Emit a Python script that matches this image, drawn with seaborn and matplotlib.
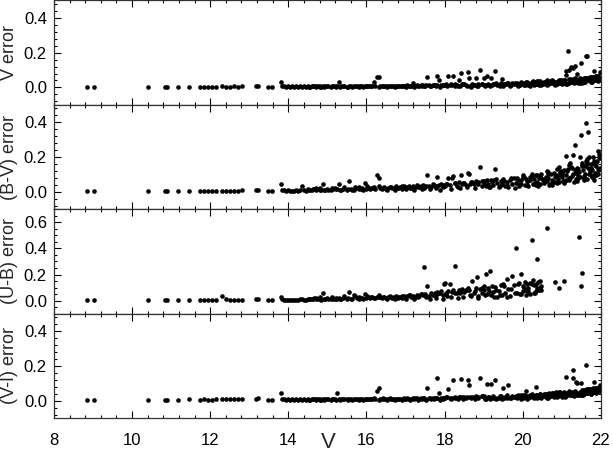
import numpy as np
import pandas as pd
import seaborn as sns
import matplotlib.pyplot as plt
from matplotlib.ticker import MultipleLocator

nan = np.nan

# V magnitude of each star (shared by all four panels)
v_mag = [
    8.84, 9.02, 10.40, 10.85, 10.90, 11.18, 11.45, 11.75, 11.85, 11.95,
    12.05, 12.15, 12.30, 12.40, 12.50, 12.60, 12.70, 12.82, 13.18, 13.22,
    13.48, 13.58, 13.81, 13.85, 13.90, 13.95, 14.00, 14.05, 14.10, 14.15,
    14.20, 14.25, 14.30, 14.34, 14.40, 14.45, 14.50, 14.55, 14.60, 14.65,
    14.70, 14.75, 14.80, 14.85, 14.89, 14.95, 15.00, 15.10, 15.15, 15.20,
    15.25, 15.30, 15.35, 15.40, 15.50, 15.56, 15.60, 15.68, 15.75, 15.80,
    15.85, 15.90, 15.96, 16.00, 16.05, 16.10, 16.15, 16.19, 16.26, 16.32,
    16.35, 16.40, 16.45, 16.50, 16.55, 16.60, 16.65, 16.70, 16.75, 16.80,
    16.85, 16.90, 16.95, 17.00, 17.05, 17.10, 17.15, 17.19, 17.25, 17.30,
    17.35, 17.40, 17.45, 17.48, 17.50, 17.56, 17.60, 17.65, 17.70, 17.75,
    17.80, 17.82, 17.85, 17.90, 17.95, 17.99, 18.00, 18.05, 18.09, 18.14,
    18.18, 18.23, 18.28, 18.32, 18.37, 18.42, 18.45, 18.50, 18.55, 18.60,
    18.62, 18.65, 18.70, 18.75, 18.80, 18.83, 18.85, 18.90, 18.95, 19.00,
    19.01, 19.06, 19.08, 19.12, 19.16, 19.19, 19.22, 19.25, 19.30, 19.35,
    19.40, 19.45, 19.48, 19.50, 19.55, 19.59, 19.63, 19.68, 19.73, 19.78,
    19.82, 19.85, 19.90, 19.95, 20.00, 20.05, 20.08, 20.10, 20.15, 20.20,
    20.23, 20.26, 20.30, 20.35, 20.37, 20.38, 20.42, 20.44, 20.48, 20.52,
    20.55, 20.60, 20.63, 20.64, 20.68, 20.72, 20.76, 20.80, 20.82, 20.86,
    20.90, 20.92, 20.94, 20.98, 21.02, 21.05, 21.07, 21.10, 21.12, 21.16,
    21.20, 21.24, 21.28, 21.30, 21.34, 21.37, 21.40, 21.44, 21.48, 21.50,
    21.53, 21.56, 21.60, 21.62, 21.65, 21.68, 21.72, 21.76, 21.80, 21.83,
    21.86, 21.90, 21.93, 21.96, 21.98, 21.66, 21.74, 21.88, 21.95, 21.70,
    16.52, 16.62, 16.72, 16.82, 16.92, 17.02, 17.12, 17.22, 17.32, 17.42,
    17.52, 17.62, 17.72, 17.78, 17.88, 17.97, 18.07, 18.16, 18.26, 18.35,
    18.40, 18.48, 18.57, 18.67, 18.77, 18.87, 18.97, 19.04, 19.14, 19.27,
    19.33, 19.42, 19.52, 19.61, 19.70, 19.80, 19.88, 19.97, 20.03, 20.12,
    20.18, 20.28, 20.33, 20.40, 20.46, 20.58, 20.66, 20.74, 20.84, 20.96,
    21.00, 21.08, 21.14, 21.22, 21.26, 21.32, 21.36, 21.42, 21.46, 21.52,
    21.55, 21.58, 21.64, 21.70, 21.74, 21.78, 21.82, 21.85, 21.88, 21.92,
    20.70, 20.88, 21.04, 21.18, 21.38, 21.57, 21.66, 21.75, 21.84, 21.94,
    19.92, 20.02, 20.14, 20.24, 20.32, 20.45, 20.54, 20.62, 20.78, 20.92,
    21.01, 21.11, 21.19, 21.27, 21.35, 21.43, 21.51, 21.59, 21.67, 21.77,
    21.81, 21.87, 21.91, 21.97, 21.61, 21.41, 21.21, 21.06, 20.88, 20.66,
    14.52, 14.72, 14.92, 15.12, 15.32, 15.52, 15.72, 15.92, 16.12, 16.32,
    14.62, 14.82, 15.02, 15.22, 15.42, 15.62, 15.82, 16.02, 16.22, 16.42,
]

v_err = [
    .004, .004, .004, .003, .004, .004, .004, .005, .004, .005,
    .005, .004, .006, .005, .005, .006, .005, .006, .007, .008,
    .004, .005, .034, .008, .006, .005, .007, .004, .006, .005,
    .006, .004, .007, .005, .006, .004, .008, .005, .006, .007,
    .005, .008, .006, .004, .007, .006, .009, .005, .007, .006,
    .007, .034, .006, .008, .005, .009, .007, .006, .010, .007,
    .006, .009, .008, .007, .010, .006, .009, .030, .060, .060,
    .008, .006, .010, .007, .009, .011, .008, .007, .010, .009,
    .011, .008, .010, .009, .012, .010, .008, .025, .011, .013,
    .010, .012, .014, .011, .009, .061, .013, .011, .015, .012,
    .014, .067, .040, .016, .013, .015, .012, .017, .067, .014,
    .016, .063, .018, .015, .040, .082, .017, .019, .016, .088,
    .057, .010, .020, .014, .052, .008, .019, .099, .022, .012,
    .057, .012, .067, .018, .009, .052, .016, .022, .095, .013,
    .014, .026, .048, .011, .021, .017, .028, .009, .024, .019,
    .018, .027, .012, .030, .022, .015, .033, .020, .026, .014,
    .024, .035, .016, .029, .038, .021, .013, .034, .027, .019,
    .031, .022, .040, .017, .036, .026, .043, .020, .033, .028,
    .038, .024, .045, .030, .021, .041, .034, .097, .072, .211,
    .100, .120, .048, .110, .125, .030, .080, .044, .027, .143,
    .036, .053, .029, .183, .183, .047, .060, .039, .062, .097,
    .045, .064, .035, .058, .090, .050, .031, .065, .042, .055,
    .004, .009, .003, .007, .011, .005, .008, .004, .010, .006,
    .012, .006, .015, .008, .004, .013, .009, .017, .006, .011,
    .008, .018, .011, .005, .016, .010, .020, .007, .014, .022,
    .025, .010, .019, .028, .013, .023, .009, .026, .016, .031,
    .011, .029, .018, .036, .014, .033, .020, .039, .016, .042,
    .025, .045, .019, .050, .032, .024, .046, .028, .052, .035,
    .048, .030, .056, .040, .061, .034, .057, .045, .063, .050,
    .023, .030, .035, .028, .038, .044, .052, .036, .058, .062,
    .016, .026, .013, .030, .020, .036, .024, .015, .038, .028,
    .040, .022, .048, .030, .052, .037, .026, .055, .044, .060,
    .047, .058, .066, .052, .040, .033, .044, .026, .019, .034,
    .003, .006, .004, .008, .005, .003, .007, .004, .009, .005,
    .007, .004, .006, .003, .008, .005, .004, .009, .006, .011,
]

bv_err = [
    .005, .005, .005, .004, .005, .005, .005, .006, .005, .006,
    .006, .005, .007, .006, .007, .006, .007, .008, .010, .012,
    .005, .006, .047, .012, .008, .006, .009, .005, .007, .006,
    .008, .006, .012, .036, .010, .007, .014, .008, .011, .016,
    .010, .015, .008, .012, .044, .011, .018, .009, .014, .020,
    .015, .046, .012, .018, .010, .065, .016, .013, .022, .014,
    .017, .020, .051, .015, .024, .018, .021, .026, .095, .082,
    .022, .016, .028, .019, .025, .030, .020, .024, .032, .021,
    .027, .019, .033, .024, .029, .036, .022, .031, .026, .038,
    .028, .034, .041, .025, .030, .095, .036, .027, .043, .032,
    .035, .088, .040, .046, .030, .042, .033, .048, .080, .038,
    .080, .090, .050, .036, .055, .097, .044, .052, .040, .110,
    .100, .048, .058, .045, .062, .050, .055, .141, .060, .047,
    .065, .032, .070, .045, .028, .066, .055, .038, .133, .050,
    .030, .062, .048, .072, .035, .058, .026, .070, .044, .078,
    .052, .080, .036, .068, .084, .042, .075, .060, .034, .085,
    .090, .048, .072, .038, .095, .058, .082, .044, .100, .066,
    .050, .088, .062, .116, .042, .105, .070, .110, .055, .096,
    .075, .141, .058, .118, .085, .125, .064, .204, .095, .130,
    .080, .145, .211, .100, .267, .072, .138, .115, .198, .327,
    .155, .090, .148, .394, .170, .345, .120, .160, .198, .090,
    .154, .110, .236, .217, .193, .190, .130, .170, .200, .198,
    .012, .026, .009, .020, .031, .015, .024, .011, .028, .018,
    .035, .016, .040, .022, .013, .031, .044, .019, .050, .027,
    .020, .052, .030, .058, .024, .046, .036, .060, .028, .070,
    .074, .032, .060, .040, .078, .025, .066, .048, .088, .038,
    .070, .045, .098, .036, .080, .060, .102, .040, .088, .112,
    .100, .065, .120, .078, .140, .058, .110, .130, .085, .150,
    .125, .070, .160, .100, .140, .085, .175, .110, .150, .130,
    .048, .052, .060, .070, .062, .080, .075, .095, .068, .105,
    .048, .095, .060, .105, .052, .090, .072, .120, .058, .095,
    .110, .070, .155, .090, .125, .080, .165, .105, .140, .125,
    .165, .095, .180, .140, .180, .090, .165, .050, .130, .080,
    .008, .020, .012, .025, .010, .016, .028, .012, .022, .035,
    .014, .025, .010, .018, .030, .012, .026, .035, .015, .024,
]

ub_err = [
    .004, .004, .004, .004, .005, .005, .006, .007, .006, .005,
    .006, .008, .033, .010, .007, .005, .006, .008, .009, .010,
    .004, .005, .030, .010, .008, .006, .008, .005, .007, .006,
    .007, .005, .010, .012, .008, .006, .014, .009, .012, .018,
    .009, .015, .011, .007, .056, .012, .020, .010, .016, .013,
    .014, .022, .011, .018, .012, .068, .015, .040, .020, .016,
    .018, .021, .053, .017, .025, .019, .028, .022, .030, .026,
    .024, .018, .030, .022, .027, .034, .021, .028, .036, .025,
    .030, .022, .038, .028, .034, .042, .026, .036, .031, .045,
    .035, .048, .040, .258, .052, .109, .038, .055, .044, .060,
    .050, .065, .058, .070, .046, .130, .132, .062, .075, .130,
    .068, .080, .266, .058, .085, .072, .090, .065, .078, .095,
    .082, .040, .152, .060, .098, .180, .035, .092, .055, .085,
    .110, .203, .050, .100, .228, .040, .115, .065, .105, .030,
    .075, .118, .045, .125, .060, .162, .090, .035, .192, .120,
    .402, .055, .135, .205, .070, .140, .045, .127, .095, .132,
    .466, .159, .060, .128, .096, .321, .080, .152, .110, nan,
    nan, nan, .554, nan, nan, nan, nan, nan, .139, nan,
    nan, nan, .096, nan, nan, nan, .152, nan, nan, nan,
    nan, nan, nan, nan, nan, nan, nan, .488, nan, .109,
    .210, nan, nan, nan, nan, nan, nan, nan, nan, nan,
    nan, nan, nan, nan, nan, nan, nan, nan, nan, nan,
    .012, .030, .010, .022, .035, .016, .040, .014, .028, .050,
    .030, .012, .045, .020, .060, .015, .038, .025, .055, .018,
    .060, .025, .080, .035, .070, .022, .095, .045, .075, .030,
    .085, .040, .110, .030, .090, .060, .125, .050, .100, .075,
    .050, .120, .075, .140, .085, nan, nan, nan, nan, nan,
    nan, nan, nan, nan, nan, nan, nan, nan, nan, nan,
    nan, nan, nan, nan, nan, nan, nan, nan, nan, nan,
    nan, nan, nan, nan, nan, nan, nan, nan, nan, nan,
    .050, .110, .070, .130, .055, .100, nan, nan, nan, nan,
    nan, nan, nan, nan, nan, nan, nan, nan, nan, nan,
    nan, nan, nan, nan, nan, nan, nan, nan, nan, nan,
    .010, .022, .014, .030, .012, .018, .035, .015, .025, .040,
    .016, .028, .012, .020, .034, .014, .030, .038, .018, .026,
]

vi_err = [
    .004, .004, .005, .004, .005, .005, .007, .006, .007, .006,
    .006, .008, .012, .009, .007, .009, .008, .010, .012, .015,
    .004, .006, .042, .012, .008, .006, .009, .005, .008, .006,
    .007, .005, .009, .006, .008, .005, .010, .006, .008, .009,
    .006, .010, .007, .005, .009, .007, .011, .006, .009, .008,
    .046, .012, .008, .010, .007, .011, .009, .008, .012, .009,
    .008, .011, .010, .009, .012, .008, .011, .013, .056, .075,
    .010, .008, .012, .009, .011, .013, .010, .009, .012, .011,
    .012, .010, .013, .011, .014, .012, .010, .016, .013, .015,
    .012, .014, .016, .013, .011, .070, .015, .012, .017, .014,
    .016, .131, .042, .018, .014, .017, .013, .019, .068, .016,
    .018, .116, .020, .017, .022, .124, .019, .021, .018, .120,
    .090, .020, .022, .019, .025, .023, .021, .131, .024, .022,
    .026, .012, .095, .020, .010, .095, .017, .024, .120, .014,
    .015, .028, .011, .075, .022, .017, .088, .013, .026, .020,
    .029, .014, .024, .033, .018, .030, .055, .012, .027, .021,
    .034, .019, .028, .080, .015, .032, .023, .039, .017, .030,
    .041, .022, .036, .018, .044, .027, .039, .020, .034, .047,
    .025, .048, .031, .042, .020, .050, .036, .137, .028, .044,
    .055, .033, .131, .174, .040, .110, .100, .046, .030, .100,
    .062, .040, .055, .203, .066, .045, .068, .050, .070, .110,
    .048, .072, .056, .075, .090, .065, .042, .060, .074, .063,
    .004, .008, .003, .010, .006, .012, .005, .009, .004, .011,
    .006, .014, .009, .018, .005, .012, .020, .008, .016, .011,
    .019, .009, .022, .013, .007, .017, .025, .011, .020, .015,
    .012, .026, .017, .030, .014, .022, .033, .010, .025, .019,
    .030, .016, .035, .021, .032, .040, .020, .045, .026, .048,
    .038, .022, .045, .030, .050, .026, .042, .034, .048, .031,
    .035, .060, .044, .068, .040, .064, .052, .070, .046, .058,
    .028, .035, .030, .040, .034, .045, .055, .038, .060, .066,
    .020, .031, .014, .036, .024, .040, .028, .018, .045, .032,
    .045, .026, .050, .034, .055, .040, .030, .060, .048, .065,
    .052, .062, .070, .058, .045, .036, .047, .030, .022, .038,
    .004, .007, .005, .009, .006, .004, .008, .005, .011, .006,
    .008, .005, .007, .004, .010, .006, .005, .011, .007, .013,
]

panel_labels = ["V error", "(B-V) error", "(U-B) error", "(V-I) error"]
panel_cols = ["v_err", "bv_err", "ub_err", "vi_err"]
panel_ylims = [(-0.1, 0.5), (-0.1, 0.5), (-0.1, 0.7), (-0.1, 0.5)]
panel_minor = [0.04, 0.04, 0.05, 0.04]

stars = pd.DataFrame({
    "V": v_mag,
    "v_err": v_err,
    "bv_err": bv_err,
    "ub_err": ub_err,
    "vi_err": vi_err,
})

sns.set_style("ticks")
plt.rcParams["font.family"] = ["Liberation Sans", "DejaVu Sans"]

fig, axes = plt.subplots(4, 1, figsize=(6.13, 4.51), dpi=100, sharex=True)
fig.subplots_adjust(left=0.088, right=0.980, top=0.999, bottom=0.073, hspace=0)

for ax, col, label, ylim, minor in zip(axes, panel_cols, panel_labels,
                                       panel_ylims, panel_minor):
    sns.scatterplot(data=stars, x="V", y=col, ax=ax, color="black",
                    s=11, linewidth=0, legend=False)
    ax.set_xlim(8, 22)
    ax.set_ylim(*ylim)
    ax.xaxis.set_major_locator(MultipleLocator(2))
    ax.xaxis.set_minor_locator(MultipleLocator(0.4))
    ax.yaxis.set_major_locator(MultipleLocator(0.2))
    ax.yaxis.set_minor_locator(MultipleLocator(minor))
    ax.tick_params(which="both", direction="in", top=True, right=True,
                   labelsize=12, colors="black")
    ax.tick_params(which="major", length=5, width=0.8)
    ax.tick_params(which="minor", length=2.5, width=0.8)
    ax.tick_params(axis="x", pad=11)
    ax.tick_params(axis="y", pad=5)
    for sp in ax.spines.values():
        sp.set_linewidth(0.9)
        sp.set_color("#333333")
    ax.set_xlabel("")
    ax.set_ylabel(label, fontsize=13)
    ax.yaxis.set_label_coords(-0.066, 0.5)

fig.text(328 / 613, 1 - 442 / 451, "V", fontsize=16, ha="center", va="center")

fig.savefig("out.png", dpi=100)
